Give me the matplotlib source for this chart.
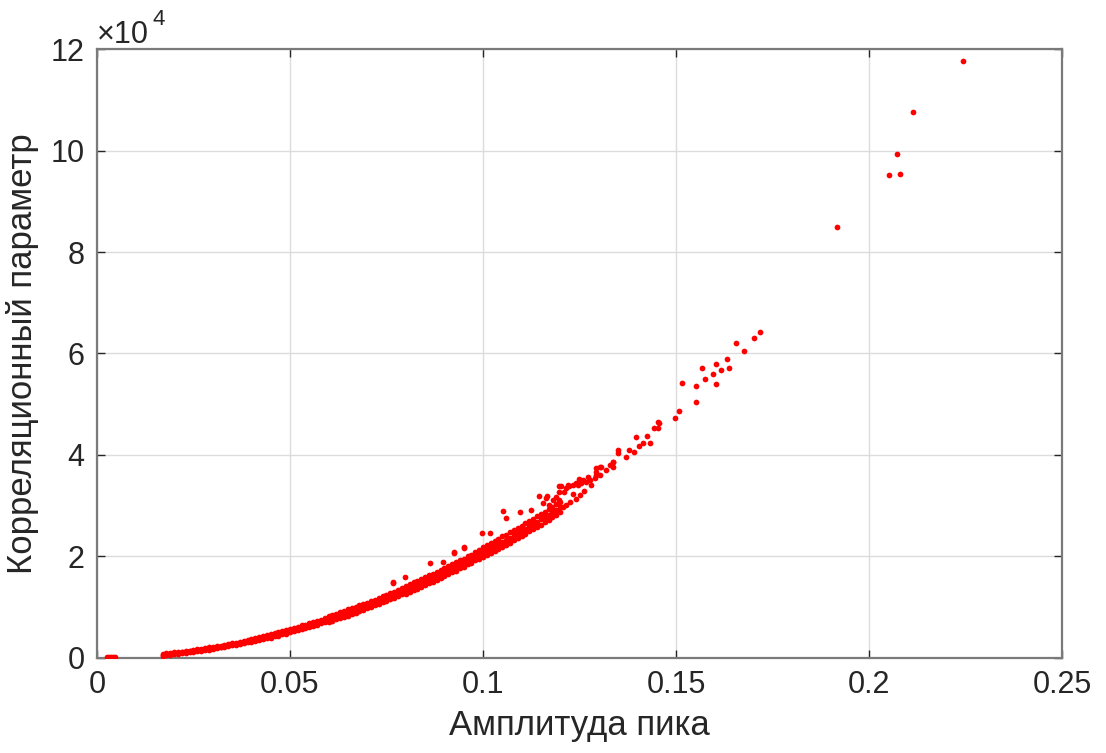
import numpy as np
import matplotlib
matplotlib.use("Agg")
import matplotlib.pyplot as plt

# dense band, y in units of 1e4
band_x = [0.017, 0.018, 0.019, 0.020, 0.021, 0.022, 0.023, 0.024, 0.025, 0.026,
          0.027, 0.028, 0.029, 0.030, 0.031, 0.032, 0.033, 0.034, 0.035, 0.036,
          0.037, 0.038, 0.039, 0.040, 0.041, 0.042, 0.043, 0.044, 0.045, 0.046,
          0.047, 0.048, 0.049, 0.050, 0.051, 0.052, 0.053, 0.054, 0.055, 0.056,
          0.057, 0.058, 0.059, 0.060, 0.061, 0.062, 0.063, 0.064, 0.065, 0.066,
          0.067, 0.068, 0.069, 0.070, 0.071, 0.072, 0.073, 0.074, 0.075, 0.076,
          0.077, 0.078, 0.079, 0.080, 0.081, 0.082, 0.083, 0.084, 0.085, 0.086,
          0.087, 0.088, 0.089, 0.090, 0.091, 0.092, 0.093, 0.094, 0.095, 0.096,
          0.097, 0.098, 0.099, 0.100, 0.101, 0.102, 0.103, 0.104, 0.105, 0.106,
          0.107, 0.108, 0.109, 0.110, 0.111, 0.112, 0.113, 0.114, 0.115, 0.116,
          0.117, 0.118, 0.119, 0.120]
band_mid = [.066, .073, .082, .090, .099, .109, .118, .129, .139, .150,
            .162, .174, .186, .199, .212, .226, .239, .254, .269, .284,
            .299, .315, .332, .348, .366, .383, .401, .420, .438, .458,
            .477, .497, .517, .538, .559, .581, .603, .625, .648, .671,
            .695, .719, .744, .768, .793, .819, .845, .871, .898, .925,
            .952, .980, 1.009, 1.038, 1.067, 1.097, 1.126, 1.156, 1.187, 1.218,
            1.250, 1.282, 1.314, 1.346, 1.380, 1.413, 1.447, 1.481, 1.516, 1.551,
            1.585, 1.620, 1.656, 1.693, 1.730, 1.768, 1.805, 1.843, 1.882, 1.921,
            1.960, 2.000, 2.040, 2.080, 2.121, 2.162, 2.203, 2.245, 2.287, 2.330,
            2.373, 2.416, 2.460, 2.504, 2.549, 2.594, 2.640, 2.686, 2.732, 2.778,
            2.825, 2.872, 2.920, 2.968]
band_lo = [.048, .055, .062, .071, .078, .090, .097, .110, .118, .131,
           .141, .155, .165, .180, .191, .207, .218, .235, .248, .265,
           .278, .296, .311, .315, .329, .350, .365, .386, .401, .425,
           .440, .463, .480, .504, .522, .548, .566, .591, .610, .638,
           .657, .685, .706, .712, .731, .762, .783, .814, .836, .868,
           .890, .923, .947, .980, 1.005, 1.039, 1.064, 1.098, 1.125, 1.160,
           1.188, 1.224, 1.252, 1.268, 1.298, 1.335, 1.365, 1.403, 1.434, 1.473,
           1.503, 1.542, 1.574, 1.615, 1.648, 1.690, 1.723, 1.765, 1.800, 1.843,
           1.878, 1.922, 1.958, 1.982, 2.020, 2.064, 2.101, 2.147, 2.185, 2.232,
           2.271, 2.318, 2.358, 2.406, 2.447, 2.496, 2.538, 2.588, 2.630, 2.680,
           2.723, 2.774, 2.818, 2.870]
band_hi = [.084, .091, .102, .108, .119, .126, .138, .146, .160, .168,
           .182, .191, .207, .216, .233, .243, .260, .271, .290, .301,
           .320, .332, .353, .382, .400, .417, .438, .454, .475, .491,
           .515, .531, .555, .572, .597, .615, .641, .659, .687, .705,
           .733, .753, .783, .823, .853, .875, .904, .927, .957, .981,
           1.012, 1.035, 1.068, 1.093, 1.127, 1.152, 1.185, 1.212, 1.247, 1.274,
           1.309, 1.337, 1.373, 1.428, 1.458, 1.495, 1.525, 1.563, 1.594, 1.633,
           1.663, 1.702, 1.734, 1.775, 1.808, 1.850, 1.883, 1.925, 1.960, 2.003,
           2.038, 2.082, 2.118, 2.185, 2.228, 2.265, 2.310, 2.348, 2.394, 2.433,
           2.480, 2.519, 2.567, 2.607, 2.656, 2.697, 2.747, 2.789, 2.839, 2.881,
           2.932, 2.975, 3.027, 3.071]

# scattered points
pts_x = [0.0027, 0.0032, 0.0037, 0.0042, 0.0046,
         0.0767, 0.0767, 0.0797, 0.0862, 0.0896, 0.0926, 0.0926, 0.0952, 0.0952,
         0.0998, 0.1017, 0.1052, 0.1060, 0.1095, 0.1125, 0.1146, 0.1165,
         0.1215, 0.1225, 0.1240, 0.1252, 0.1262, 0.1280,
         0.1155, 0.1164, 0.1172, 0.1181, 0.1190, 0.1198, 0.1198, 0.1198, 0.1203,
         0.1207, 0.1211, 0.1216, 0.1220, 0.1224, 0.1233, 0.1233, 0.1241, 0.1246,
         0.1250, 0.1254, 0.1259, 0.1267, 0.1271, 0.1276, 0.1289, 0.1293, 0.1293,
         0.1302, 0.1302, 0.1306, 0.1293, 0.1319, 0.1328, 0.1336, 0.1336, 0.1338,
         0.1349, 0.1349, 0.1371, 0.1379, 0.1392, 0.1397, 0.1405, 0.1414, 0.1424,
         0.1433, 0.1444, 0.1453, 0.1457, 0.1454, 0.1498, 0.1507, 0.1515, 0.1551,
         0.1553, 0.1575, 0.1567, 0.1596, 0.1603, 0.1603, 0.1616, 0.1631, 0.1638,
         0.1656, 0.1675, 0.1701, 0.1717,
         0.1917, 0.2052, 0.2072, 0.2081, 0.2115, 0.2244]
pts_y = [0.01, 0.01, 0.01, 0.01, 0.01,
         1.47, 1.50, 1.60, 1.88, 1.90, 2.06, 2.09, 2.16, 2.19,
         2.46, 2.46, 2.90, 2.75, 2.87, 2.92, 3.20, 3.20,
         3.02, 3.08, 3.14, 3.22, 3.30, 3.40,
         3.05, 3.15, 3.01, 3.11, 3.18, 3.28, 3.11, 3.38, 3.38,
         2.98, 3.28, 3.34, 3.41, 3.38, 3.41, 3.24, 3.44, 3.41,
         3.52, 3.44, 3.51, 3.47, 3.57, 3.51, 3.54, 3.61, 3.74,
         3.61, 3.77, 3.77, 3.67, 3.70, 3.80, 3.77, 3.87, 3.87,
         4.03, 4.10, 3.97, 4.10, 4.05, 4.36, 4.18, 4.23, 4.37,
         4.24, 4.53, 4.53, 4.64, 4.65, 4.73, 4.87, 5.41, 5.05,
         5.36, 5.49, 5.71, 5.60, 5.79, 5.40, 5.67, 5.90, 5.71,
         6.20, 6.05, 6.31, 6.42,
         8.49, 9.52, 9.94, 9.54, 10.75, 11.76]

x_ticks = [0, 0.05, 0.1, 0.15, 0.2, 0.25]
x_labels = ["0", "0.05", "0.1", "0.15", "0.2", "0.25"]
y_ticks = [0, 2, 4, 6, 8, 10, 12]

plt.rcParams['font.family'] = ['Liberation Sans', 'DejaVu Sans']

fig = plt.figure(figsize=(11.06, 7.53), dpi=100)
ax = fig.add_axes([0.0877, 0.1262, 0.8725, 0.8087])

red = "#ff0000"
for ys in (band_lo, band_mid, band_hi):
    ax.scatter(band_x, ys, s=17, color=red, linewidths=0, zorder=3)
ax.scatter(pts_x, pts_y, s=17, color=red, linewidths=0, zorder=3)

ax.set_xlim(0, 0.25)
ax.set_ylim(0, 12)
ax.set_xticks(x_ticks)
ax.set_xticklabels(x_labels)
ax.set_yticks(y_ticks)
ax.grid(True, color="#dcdcdc", linewidth=1)
ax.set_axisbelow(True)
for sp in ax.spines.values():
    sp.set_color("#7a7a7a")
    sp.set_linewidth(1.6)
ax.tick_params(direction="in", length=6, width=1, colors="#262626",
               labelsize=22, top=True, right=True, pad=9)
ax.set_xlabel("Амплитуда пика", fontsize=25, color="#262626", labelpad=6)
ax.set_ylabel("Корреляционный параметр", fontsize=25, color="#262626", labelpad=8)

fig.text(0.088, 0.943, "\u00d710", fontsize=22, color="#262626", ha="left", va="baseline")
fig.text(0.1375, 0.967, "4", fontsize=16, color="#262626", ha="left", va="baseline")

fig.savefig("out.png", dpi=100)
